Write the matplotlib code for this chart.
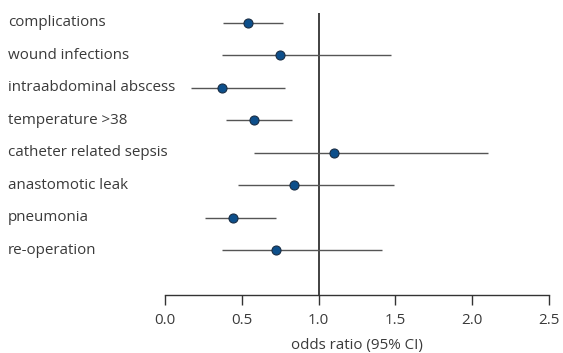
import numpy as np
import matplotlib.pyplot as plt
import matplotlib.transforms as mtransforms

# outcomes, top to bottom
outcomes = ["complications", "wound infections", "intraabdominal abscess",
            "temperature >38", "catheter related sepsis", "anastomotic leak",
            "pneumonia", "re-operation"]
odds_ratio = [0.54, 0.75, 0.37, 0.58, 1.10, 0.84, 0.44, 0.72]
ci_low = [0.38, 0.37, 0.17, 0.40, 0.58, 0.475, 0.26, 0.37]
ci_high = [0.77, 1.47, 0.78, 0.83, 2.10, 1.49, 0.72, 1.41]
xticks = [0.0, 0.5, 1.0, 1.5, 2.0, 2.5]

plt.rcParams['font.family'] = ['Open Sans', 'DejaVu Sans']
txt_col = "#3a3a3a"
fs = 10.9

fig = plt.figure(figsize=(5.63, 3.53), dpi=100)
ax = fig.add_axes([165/563, 1 - 295/353, 384/563, 282/353])

y = np.arange(len(outcomes))
ax.hlines(y, ci_low, ci_high, color="#555555", lw=1.0, zorder=2)
ax.plot(odds_ratio, y, "o", ms=6.5, mfc="#0d4f8b", mec="#1a2e45", mew=0.8, zorder=3)
ax.axvline(1.0, color="#333333", lw=1.3, zorder=1)

ax.set_xlim(0, 2.5)
ax.set_ylim(len(outcomes) - 1 + 1.38, -0.3)
ax.set_xticks(xticks)
ax.set_xticklabels([f"{t:.1f}" for t in xticks], fontsize=fs, color=txt_col)
ax.tick_params(axis="x", direction="out", length=7, width=1, color="#333333", pad=6)
ax.set_yticks([])
for s in ["top", "right", "left"]:
    ax.spines[s].set_visible(False)
ax.spines["bottom"].set_color("#333333")
ax.spines["bottom"].set_linewidth(1.0)
ax.set_xlabel("odds ratio (95% CI)", fontsize=fs, color=txt_col, labelpad=7)

trans = mtransforms.blended_transform_factory(fig.transFigure, ax.transData)
for yi, name in zip(y, outcomes):
    ax.text(8/563, yi, name, transform=trans, ha="left", va="center",
            fontsize=fs, color=txt_col)

fig.savefig("out.png", dpi=100)
